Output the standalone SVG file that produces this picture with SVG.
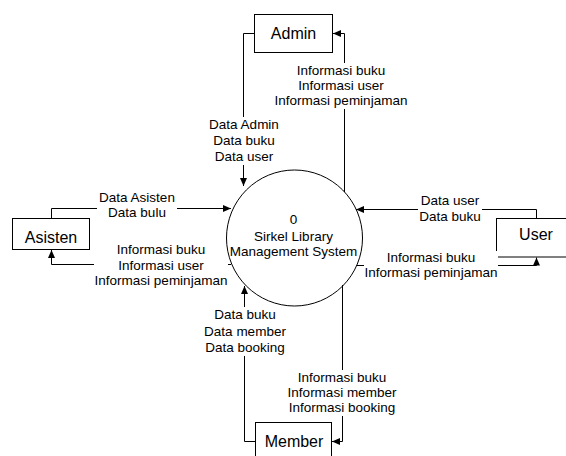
<svg xmlns="http://www.w3.org/2000/svg" width="566" height="456" viewBox="0 0 566 456">
<defs>
<marker id="arr" markerWidth="8" markerHeight="7" refX="8" refY="3.5" orient="auto" markerUnits="userSpaceOnUse">
<path d="M0,0 L8,3.5 L0,7 z" fill="#000"/>
</marker>
<style>
.box{fill:#fff;stroke:#000;stroke-width:1}
.ent{font-family:"Liberation Sans",Arial,sans-serif;font-size:16px;fill:#000;text-anchor:middle}
.lbl{font-family:"Liberation Sans",Arial,sans-serif;font-size:13.5px;fill:#000;text-anchor:middle}
.bg{fill:#fff;stroke:none}
.ln{fill:none;stroke:#000;stroke-width:1;marker-end:url(#arr)}
</style>
</defs>
<rect width="566" height="456" fill="#fff"/>
<g id="connectors">
<path class="ln" d="M254.5,33.5 H243.5 V186"/>
<path class="ln" d="M344.5,192 V33.5 H333"/>
<path class="ln" d="M51.5,218 V208.5 H231"/>
<path class="ln" d="M231,264.5 H51.5 V250"/>
<path class="ln" d="M536.5,218 V209.5 H356"/>
<path class="ln" d="M356.5,265.5 H536.5 V257.5"/>
<path class="ln" d="M255,441.5 H244.5 V286"/>
<path class="ln" d="M342.5,285 V441.5 H332"/>
<g id="lbl-admin-in">
<rect class="bg" x="207" y="117" width="74" height="48"/>
<text class="lbl" x="244" y="129">Data Admin</text>
<text class="lbl" x="244" y="145">Data buku</text>
<text class="lbl" x="244" y="161">Data user</text>
</g>
<g id="lbl-admin-out">
<rect class="bg" x="274" y="63" width="134" height="46"/>
<text class="lbl" x="341" y="75">Informasi buku</text>
<text class="lbl" x="341" y="90">Informasi user</text>
<text class="lbl" x="341" y="105">Informasi peminjaman</text>
</g>
<g id="lbl-asisten-in">
<rect class="bg" x="97" y="190" width="80" height="31"/>
<text class="lbl" x="137" y="201.5">Data Asisten</text>
<text class="lbl" x="137" y="217">Data bulu</text>
</g>
<g id="lbl-asisten-out">
<rect class="bg" x="94" y="243" width="134" height="46"/>
<text class="lbl" x="161" y="254">Informasi buku</text>
<text class="lbl" x="161" y="269.5">Informasi user</text>
<text class="lbl" x="161" y="285">Informasi peminjaman</text>
</g>
<g id="lbl-user-in">
<rect class="bg" x="418" y="194" width="64" height="31"/>
<text class="lbl" x="450" y="205">Data user</text>
<text class="lbl" x="450" y="221">Data buku</text>
</g>
<g id="lbl-member-in">
<rect class="bg" x="204" y="307" width="82" height="49"/>
<text class="lbl" x="245" y="319">Data buku</text>
<text class="lbl" x="245" y="335.5">Data member</text>
<text class="lbl" x="245" y="352">Data booking</text>
</g>
<g id="lbl-member-out">
<rect class="bg" x="287" y="370" width="110" height="46"/>
<text class="lbl" x="342" y="382">Informasi buku</text>
<text class="lbl" x="342" y="397">Informasi member</text>
<text class="lbl" x="342" y="412">Informasi booking</text>
</g>
</g>
<g id="process">
<circle cx="294.5" cy="238" r="68" fill="none" stroke="#000" stroke-width="1"/>
<text class="lbl" x="293.5" y="224">0</text>
<text class="lbl" x="293.5" y="241">Sirkel Library</text>
<text class="lbl" x="293.5" y="256">Management System</text>
</g>
<g id="admin">
<rect class="box" x="254.5" y="14.5" width="78" height="38"/>
<text class="ent" x="293.5" y="38.5">Admin</text>
</g>
<g id="asisten">
<rect class="box" x="12.5" y="218.5" width="77" height="31"/>
<text class="ent" x="51" y="242.5">Asisten</text>
</g>
<g id="user">
<rect class="box" x="496.5" y="218.5" width="80" height="38.5"/>
<text class="ent" x="536" y="240">User</text>
</g>
<g id="lbl-user-out">
<rect class="bg" x="364" y="251" width="134" height="30"/>
<text class="lbl" x="431" y="262">Informasi buku</text>
<text class="lbl" x="431" y="277">Informasi peminjaman</text>
</g>
<g id="member">
<rect class="box" x="255.5" y="422.5" width="76" height="40"/>
<text class="ent" x="294" y="447">Member</text>
</g>
</svg>
